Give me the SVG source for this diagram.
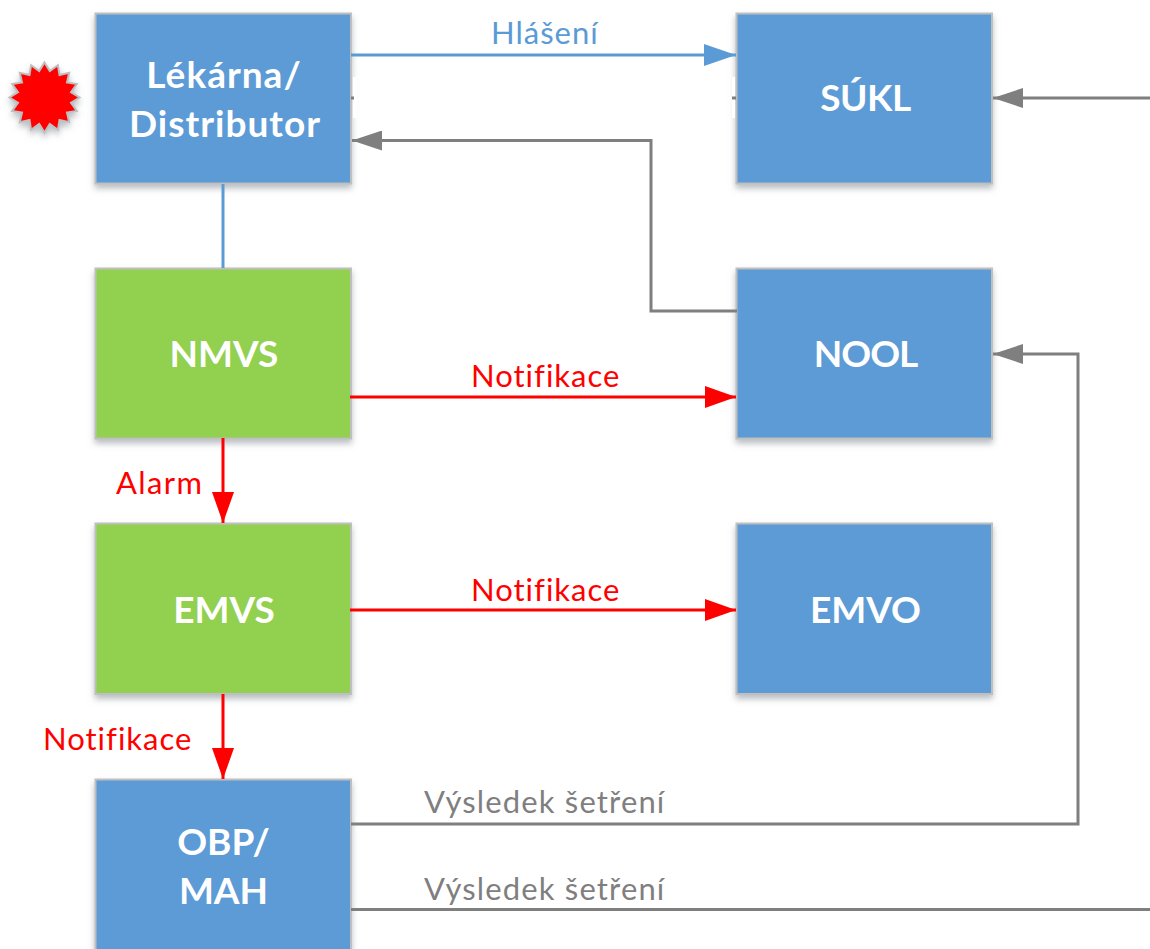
<svg xmlns="http://www.w3.org/2000/svg" width="1150" height="949" viewBox="0 0 1150 949">
<style>
text{font-family:"Lato","Open Sans","Liberation Sans",sans-serif}
.box{stroke:#bfbfbf;stroke-width:2;filter:url(#sh)}
.b{fill:#5b9bd5}.g{fill:#92d050}
.t{fill:#fff;font-weight:700;font-size:37px;text-anchor:middle}
.w{letter-spacing:1px}
.l{font-size:31px;letter-spacing:1px}
.c{fill:none;stroke-width:3}
.cb{stroke:#5b9bd5}.cr{stroke:#f00}.cg{stroke:#7f7f7f}
</style>
<defs>
<filter id="sh" x="-10%" y="-10%" width="120%" height="125%"><feDropShadow dx="0" dy="4" stdDeviation="3" flood-color="#7f8790" flood-opacity=".55"/></filter>
<marker id="ab" markerUnits="userSpaceOnUse" markerWidth="32" markerHeight="22" refX="32" refY="11" orient="auto"><path d="M0 0L32 11L0 22Z" fill="#5b9bd5"/></marker>
<marker id="ar" markerUnits="userSpaceOnUse" markerWidth="31" markerHeight="22" refX="31" refY="11" orient="auto"><path d="M0 0L31 11L0 22Z" fill="#f00"/></marker>
<marker id="ag" markerUnits="userSpaceOnUse" markerWidth="30" markerHeight="20" refX="30" refY="10" orient="auto"><path d="M0 0L30 10L0 20Z" fill="#7f7f7f"/></marker>
</defs>
<g id="nodes">
<g id="star"><polygon class="box" fill="#f00" transform="translate(44.5 97.500)" points="0,-35 5.3,-26.5 13.4,-32.3 15,-22.5 24.7,-24.7 22.5,-15 32.3,-13.4 26.5,-5.3 35,0 26.5,5.3 32.3,13.4 22.5,15 24.7,24.7 15,22.5 13.4,32.3 5.3,26.5 0,35 -5.3,26.5 -13.4,32.3 -15,22.5 -24.7,24.7 -22.5,15 -32.3,13.4 -26.5,5.3 -35,0 -26.5,-5.3 -32.3,-13.4 -22.5,-15 -24.7,-24.7 -15,-22.5 -13.4,-32.3 -5.3,-26.5"/></g>
<g id="lekarna"><rect class="box b" x="95.500" y="13.500" width="255.500" height="170"/><text class="t w" x="224" y="88">Lékárna/</text><text class="t w" x="225" y="137">Distributor</text></g>
<g id="sukl"><rect class="box b" x="736.500" y="13.500" width="255.500" height="170"/><text class="t" x="865.500" y="111" style="letter-spacing:-.5px">SÚKL</text></g>
<g id="nmvs"><rect class="box g" x="95.500" y="268.500" width="255.500" height="170"/><text class="t" x="224" y="367">NMVS</text></g>
<g id="nool"><rect class="box b" x="736.500" y="268.500" width="255.500" height="170"/><text class="t" x="865.500" y="367" style="letter-spacing:-1px">NOOL</text></g>
<g id="emvs"><rect class="box g" x="95.500" y="523.500" width="255.500" height="170.500"/><text class="t" x="224" y="623">EMVS</text></g>
<g id="emvo"><rect class="box b" x="736.500" y="523.500" width="255.500" height="170.500"/><text class="t" x="865.500" y="623">EMVO</text></g>
<g id="obp"><rect class="box b" x="95.500" y="779.500" width="255.500" height="190"/><text class="t" x="223.500" y="855">OBP/</text><text class="t" x="223.500" y="904">MAH</text></g>
</g>
<g id="connectors">
<rect x="353" y="77" width="4" height="41" fill="#fff"/>
<rect x="732" y="77" width="3" height="41" fill="#fff"/>
<path class="c cg" d="M351 98H354M732 98H736"/>
<path class="c cb" d="M351 55H736" marker-end="url(#ab)"/>
<path class="c cb" d="M223 184V268"/>
<path class="c cg" d="M737 311H651V140.500H352" marker-end="url(#ag)"/>
<path class="c cg" d="M1150 98H993" marker-end="url(#ag)"/>
<path class="c cr" d="M350 397H736" marker-end="url(#ar)"/>
<path class="c cr" d="M350 610H736" marker-end="url(#ar)"/>
<path class="c cr" d="M223 438V523" marker-end="url(#ar)"/>
<path class="c cr" d="M223 694V779" marker-end="url(#ar)"/>
<path class="c cg" d="M351 824H1078V354H993" marker-end="url(#ag)"/>
<path class="c cg" d="M351 909.500H1150"/>
</g>
<g id="labels">
<text class="l" x="491" y="44" fill="#5b9bd5">Hlášení</text>
<text class="l" x="471" y="387" fill="#f00">Notifikace</text>
<text class="l" x="471" y="601" fill="#f00">Notifikace</text>
<text class="l" x="116" y="494" fill="#f00" style="letter-spacing:1.4px">Alarm</text>
<text class="l" x="43" y="750" fill="#f00">Notifikace</text>
<text class="l" x="424" y="813" fill="#7f7f7f" style="letter-spacing:1.15px">Výsledek šetření</text>
<text class="l" x="424" y="900" fill="#7f7f7f" style="letter-spacing:1.15px">Výsledek šetření</text>
</g>
</svg>
